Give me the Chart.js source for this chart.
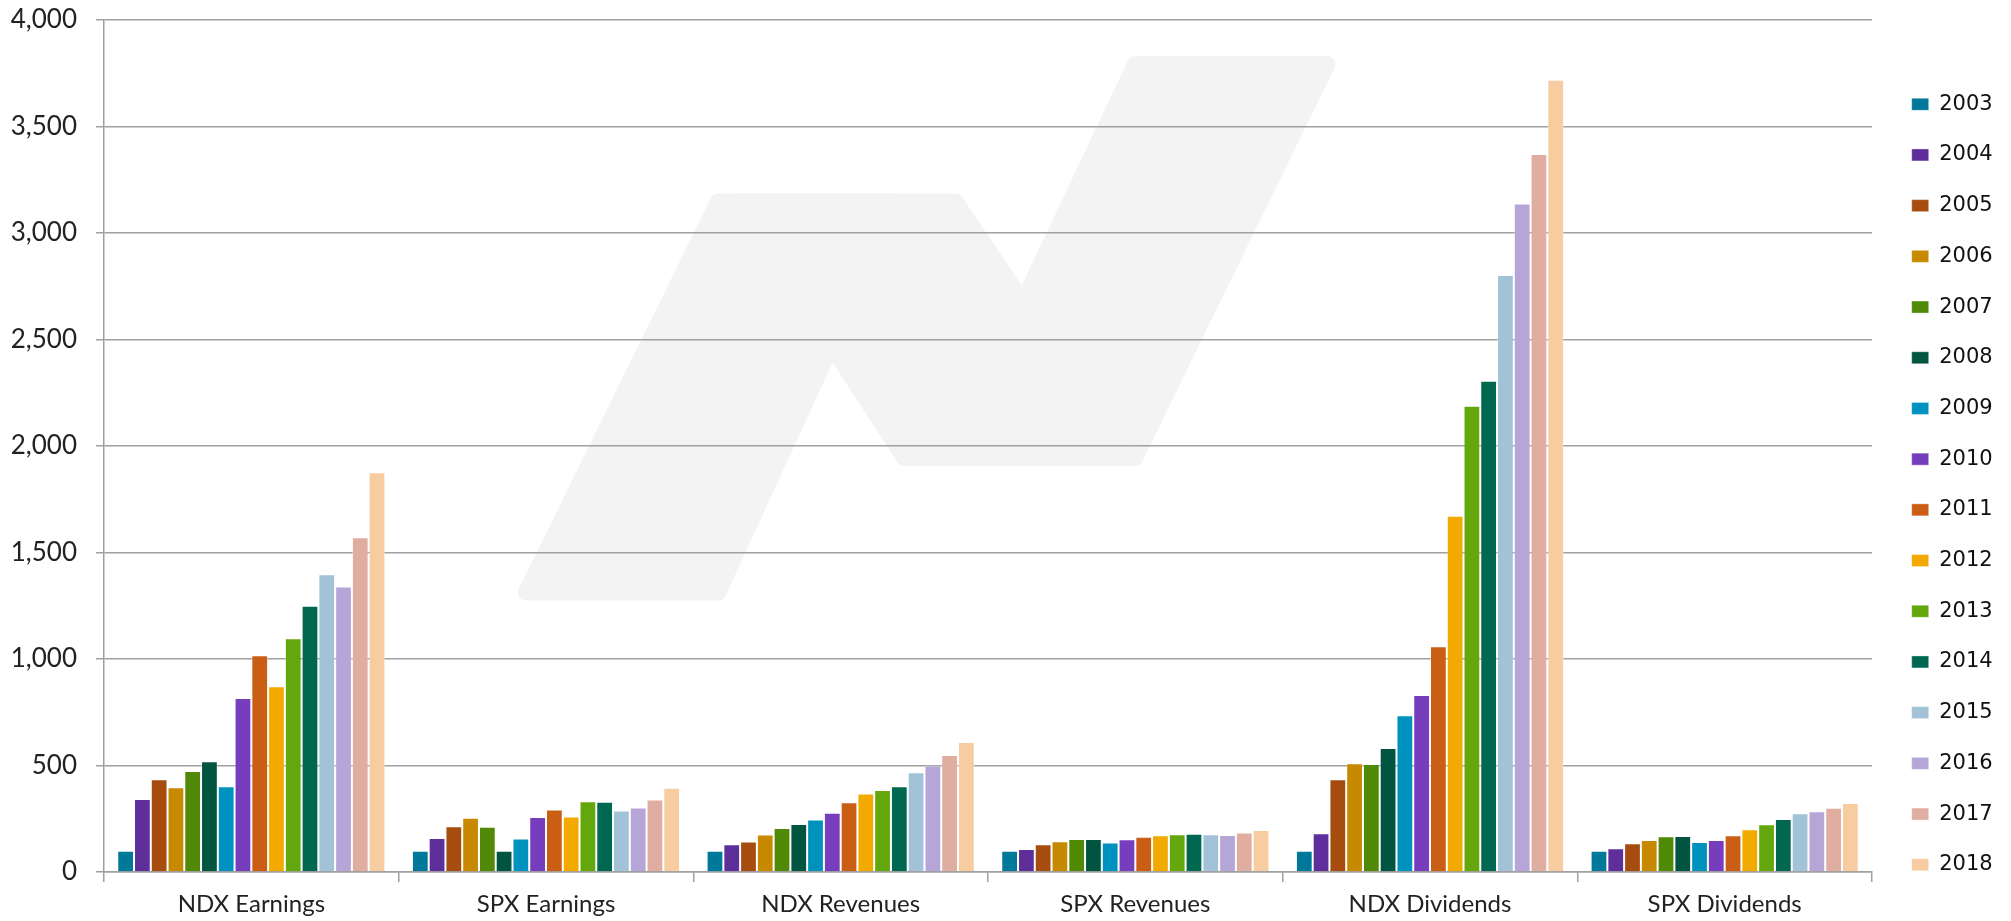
<!DOCTYPE html>
<html>
<head>
<meta charset="utf-8">
<script src="https://cdn.jsdelivr.net/npm/chart.js@4"></script>
<style>
  html, body { margin: 0; padding: 0; background: #ffffff; }
  #wrap { width: 2011px; height: 921px; position: relative; }
</style>
</head>
<body>
<div id="wrap"><canvas id="c"></canvas></div>
<script>
const categories = ['NDX Earnings', 'SPX Earnings', 'NDX Revenues', 'SPX Revenues', 'NDX Dividends', 'SPX Dividends'];
const years = ['2003','2004','2005','2006','2007','2008','2009','2010','2011','2012','2013','2014','2015','2016','2017','2018'];

// values per category, one per year (2003..2018)
const ndxEarnings  = [100, 343, 435, 398, 474, 520, 402, 817, 1018, 872, 1098, 1250, 1398, 1340, 1572, 1877];
const spxEarnings  = [100, 160, 215, 255, 212, 100, 157, 258, 294, 261, 332, 330, 289, 303, 340, 395];
const ndxRevenues  = [100, 130, 143, 176, 206, 225, 247, 278, 327, 369, 385, 402, 468, 500, 549, 610];
const spxRevenues  = [100, 108, 130, 144, 155, 155, 139, 154, 165, 172, 177, 179, 177, 174, 185, 197];
const ndxDividends = [100, 182, 435, 510, 507, 582, 736, 831, 1060, 1672, 2189, 2306, 2803, 3139, 3371, 3719];
const spxDividends = [100, 111, 135, 150, 168, 169, 141, 150, 172, 201, 224, 249, 276, 285, 302, 324];

const yTickMin = 0, yTickMax = 4000, yTickStep = 500;

const colors = ['#007899','#5e2f9b','#a64c0e','#c68900','#4f8906','#005440','#0092be','#763dbd',
                '#cb5e15','#f2a900','#63a70d','#006750','#a1c2d7','#b6a6d8','#dfaea1','#f7cca0'];

const seriesByCategory = [ndxEarnings, spxEarnings, ndxRevenues, spxRevenues, ndxDividends, spxDividends];
const datasets = years.map((y, i) => ({
  label: y,
  data: seriesByCategory.map(arr => arr[i]),
  backgroundColor: colors[i],
  borderColor: 'rgba(255,255,255,0.35)',
  borderWidth: 1,
  categoryPercentage: 0.91,
  barPercentage: 1.0
}));

// faint decorative watermark behind the plot
const watermark = {
  id: 'watermark',
  beforeDraw(chart) {
    const ctx = chart.ctx;
    const W = chart.width, H = chart.height;
    const sx = W / 1568, sy = H / 718;
    const P = (x, y) => [x * sx, y * sy];
    const polys = [
      [P(410,462), P(560,462), P(700,157), P(560,157)],
      [P(575,157), P(745,157), P(880,357), P(705,357)],
      [P(740,357), P(885,357), P(1035,50), P(885,50)]
    ];
    ctx.save();
    ctx.fillStyle = '#f3f3f3';
    ctx.strokeStyle = '#f3f3f3';
    ctx.lineJoin = 'round';
    ctx.lineWidth = 16;
    polys.forEach(poly => {
      ctx.beginPath();
      ctx.moveTo(poly[0][0], poly[0][1]);
      for (let k = 1; k < poly.length; k++) ctx.lineTo(poly[k][0], poly[k][1]);
      ctx.closePath();
      ctx.fill();
      ctx.stroke();
    });
    ctx.restore();
  }
};

const gridColor = '#a0a0a0';

new Chart(document.getElementById('c'), {
  type: 'bar',
  data: { labels: categories, datasets },
  plugins: [watermark],
  options: {
    responsive: true,
    maintainAspectRatio: false,
    animation: false,
    layout: { padding: { top: 20, right: 11, bottom: 0, left: 0 } },
    plugins: {
      tooltip: { enabled: false },
      legend: {
        position: 'right',
        maxWidth: 118,
        title: { display: true, text: ' ', font: { size: 10 }, padding: 8 },
        labels: {
          boxWidth: 17,
          boxHeight: 12,
          padding: 29.7,
          color: '#111',
          font: { family: 'DejaVu Sans', size: 21 }
        }
      }
    },
    scales: {
      x: {
        grid: { display: true, drawOnChartArea: false, drawTicks: true, tickLength: 10, color: gridColor, lineWidth: 1.5, offset: true },
        border: { display: true, color: gridColor, width: 1.5 },
        ticks: { color: '#222', font: { family: 'Lato', size: 24 }, padding: 8 },
        afterFit(axis) { axis.height = 49; }
      },
      y: {
        min: yTickMin,
        max: yTickMax,
        ticks: {
          stepSize: yTickStep,
          color: '#222',
          padding: 19,
          font: { family: 'Lato', size: 26 },
          callback: v => v.toLocaleString('en-US')
        },
        grid: { color: gridColor, lineWidth: 1.5, tickLength: 8, drawTicks: true },
        border: { display: true, color: gridColor, width: 1.5 },
        afterFit(axis) { axis.width = 104; axis.paddingTop = 0; axis.paddingBottom = 0; }
      },
      gap: {
        type: 'linear',
        position: 'right',
        display: true,
        grid: { display: false, drawTicks: false },
        border: { display: false },
        ticks: { display: false },
        afterFit(axis) { axis.width = 10; }
      }
    }
  }
});
</script>
</body>
</html>
